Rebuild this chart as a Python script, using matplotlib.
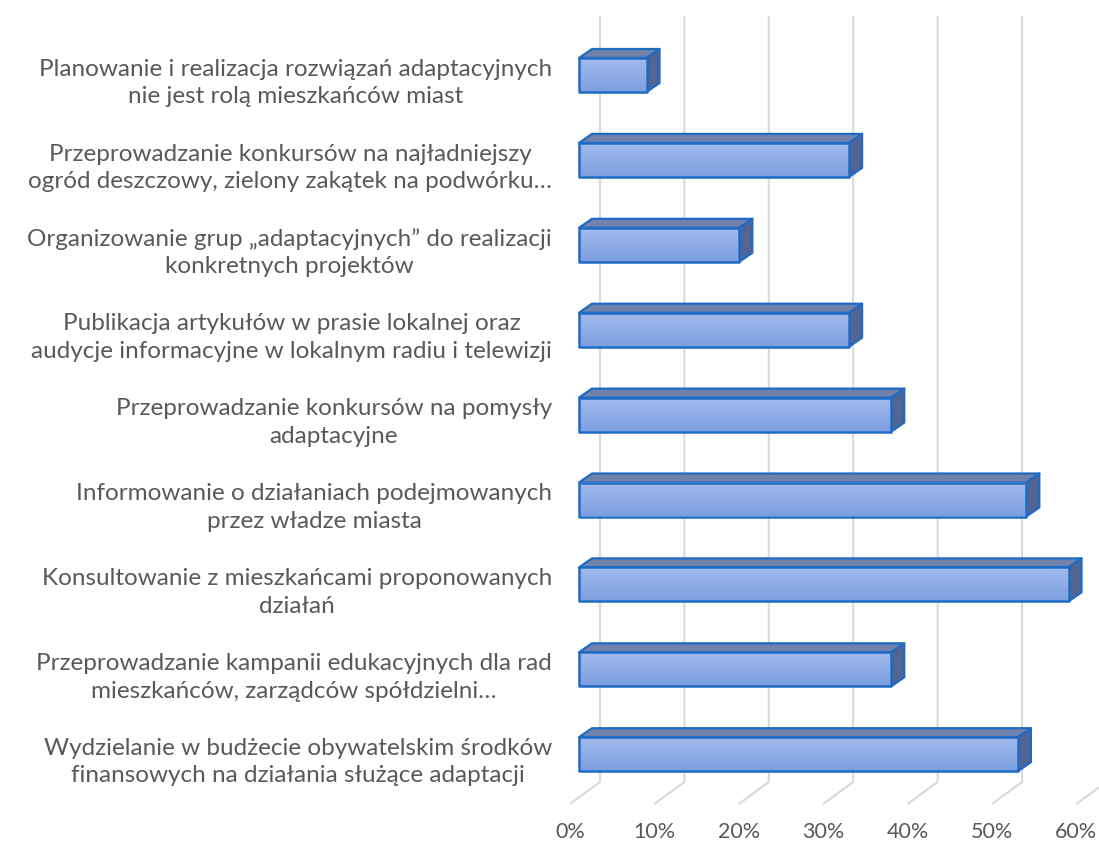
import numpy as np
import matplotlib
matplotlib.use("Agg")
import matplotlib.pyplot as plt
from matplotlib.patches import Polygon, Rectangle
from matplotlib.colors import LinearSegmentedColormap

# Survey answers, listed top to bottom as shown
categories = [
    "Planowanie i realizacja rozwiązań adaptacyjnych\nnie jest rolą mieszkańców miast",
    "Przeprowadzanie konkursów na najładniejszy\nogród deszczowy, zielony zakątek na podwórku…",
    "Organizowanie grup „adaptacyjnych” do realizacji\nkonkretnych projektów",
    "Publikacja artykułów w prasie lokalnej oraz\naudycje informacyjne w lokalnym radiu i telewizji",
    "Przeprowadzanie konkursów na pomysły\nadaptacyjne",
    "Informowanie o działaniach podejmowanych\nprzez władze miasta",
    "Konsultowanie z mieszkańcami proponowanych\ndziałań",
    "Przeprowadzanie kampanii edukacyjnych dla rad\nmieszkańców, zarządców spółdzielni…",
    "Wydzielanie w budżecie obywatelskim środków\nfinansowych na działania służące adaptacji",
]
values = [8, 32, 19, 32, 37, 53, 58, 37, 52]   # percent of respondents
ticks = [0, 10, 20, 30, 40, 50, 60]
tick_labels = [f"{t}%" for t in ticks]

W, Hpx = 1099, 841
fig = plt.figure(figsize=(W / 100, Hpx / 100), dpi=100)
ax = fig.add_axes([0, 0, 1, 1])
ax.axis("off")

# scale: pixels per percent and per category step
sx = 8.44
sy = 84.9
x0_px, y0_px = 579, 75
ax.set_xlim(-x0_px / sx, (W - x0_px) / sx)
ax.set_ylim((Hpx - y0_px) / sy, -y0_px / sy)

# 3D depth offsets (in data units)
DX = 13 / sx
DY = -9 / sy
HALF = 17 / sy
WALL_DX = 21 / sx          # back wall relative to bar front
FLOOR_DX = -30 / sx        # floor front edge relative to back wall
grid_top = (16 - y0_px) / sy
grid_floor = (782 - y0_px) / sy
grid_front = (804 - y0_px) / sy

grid_color = "#D9D9D9"
text_color = "#595959"
edge_color = "#1F6BC4"
top_color = "#7082AB"
side_color = "#526491"
face_cmap = LinearSegmentedColormap.from_list("face", ["#A2BAEE", "#7C9FE0"])

font = ["Lato", "DejaVu Sans"]

# back wall gridlines with floor diagonals
for t in ticks:
    xb = t + WALL_DX
    ax.plot([xb, xb, xb + FLOOR_DX], [grid_top, grid_floor, grid_front],
            color=grid_color, lw=1.5, solid_capstyle="butt", zorder=1)

# tick labels along the floor front edge
for t, lab in zip(ticks, tick_labels):
    ax.text(t + WALL_DX + FLOOR_DX, (832 - y0_px) / sy, lab, ha="center",
            va="center", fontsize=15.5, color=text_color, family=font)

gradient = np.linspace(0, 1, 64).reshape(-1, 1)

for i, v in enumerate(values):
    top = i - HALF
    bot = i + HALF
    # top face
    ax.add_patch(Polygon([(0, top), (DX, top + DY), (v + DX, top + DY), (v, top)],
                         closed=True, facecolor=top_color, edgecolor=edge_color,
                         lw=1.6, joinstyle="round", zorder=3))
    # right side face
    ax.add_patch(Polygon([(v, top), (v + DX, top + DY), (v + DX, bot + DY), (v, bot)],
                         closed=True, facecolor=side_color, edgecolor=edge_color,
                         lw=1.6, joinstyle="round", zorder=3))
    # front face with vertical gradient
    ax.imshow(gradient, cmap=face_cmap, aspect="auto", origin="upper",
              extent=(0, v, bot, top), interpolation="bilinear", zorder=4)
    ax.add_patch(Rectangle((0, top), v, bot - top, fill=False,
                           edgecolor=edge_color, lw=1.8, joinstyle="round", zorder=5))

# restore limits after imshow
ax.set_xlim(-x0_px / sx, (W - x0_px) / sx)
ax.set_ylim((Hpx - y0_px) / sy, -y0_px / sy)

# category labels: right-aligned blocks, lines centred
for i, lab in enumerate(categories):
    ax.text((552 - x0_px) / sx, i + 8 / sy, lab, ha="right", va="center",
            multialignment="center", fontsize=17.5, color=text_color,
            family=font, linespacing=1.38)

fig.savefig("out.png", dpi=100)
